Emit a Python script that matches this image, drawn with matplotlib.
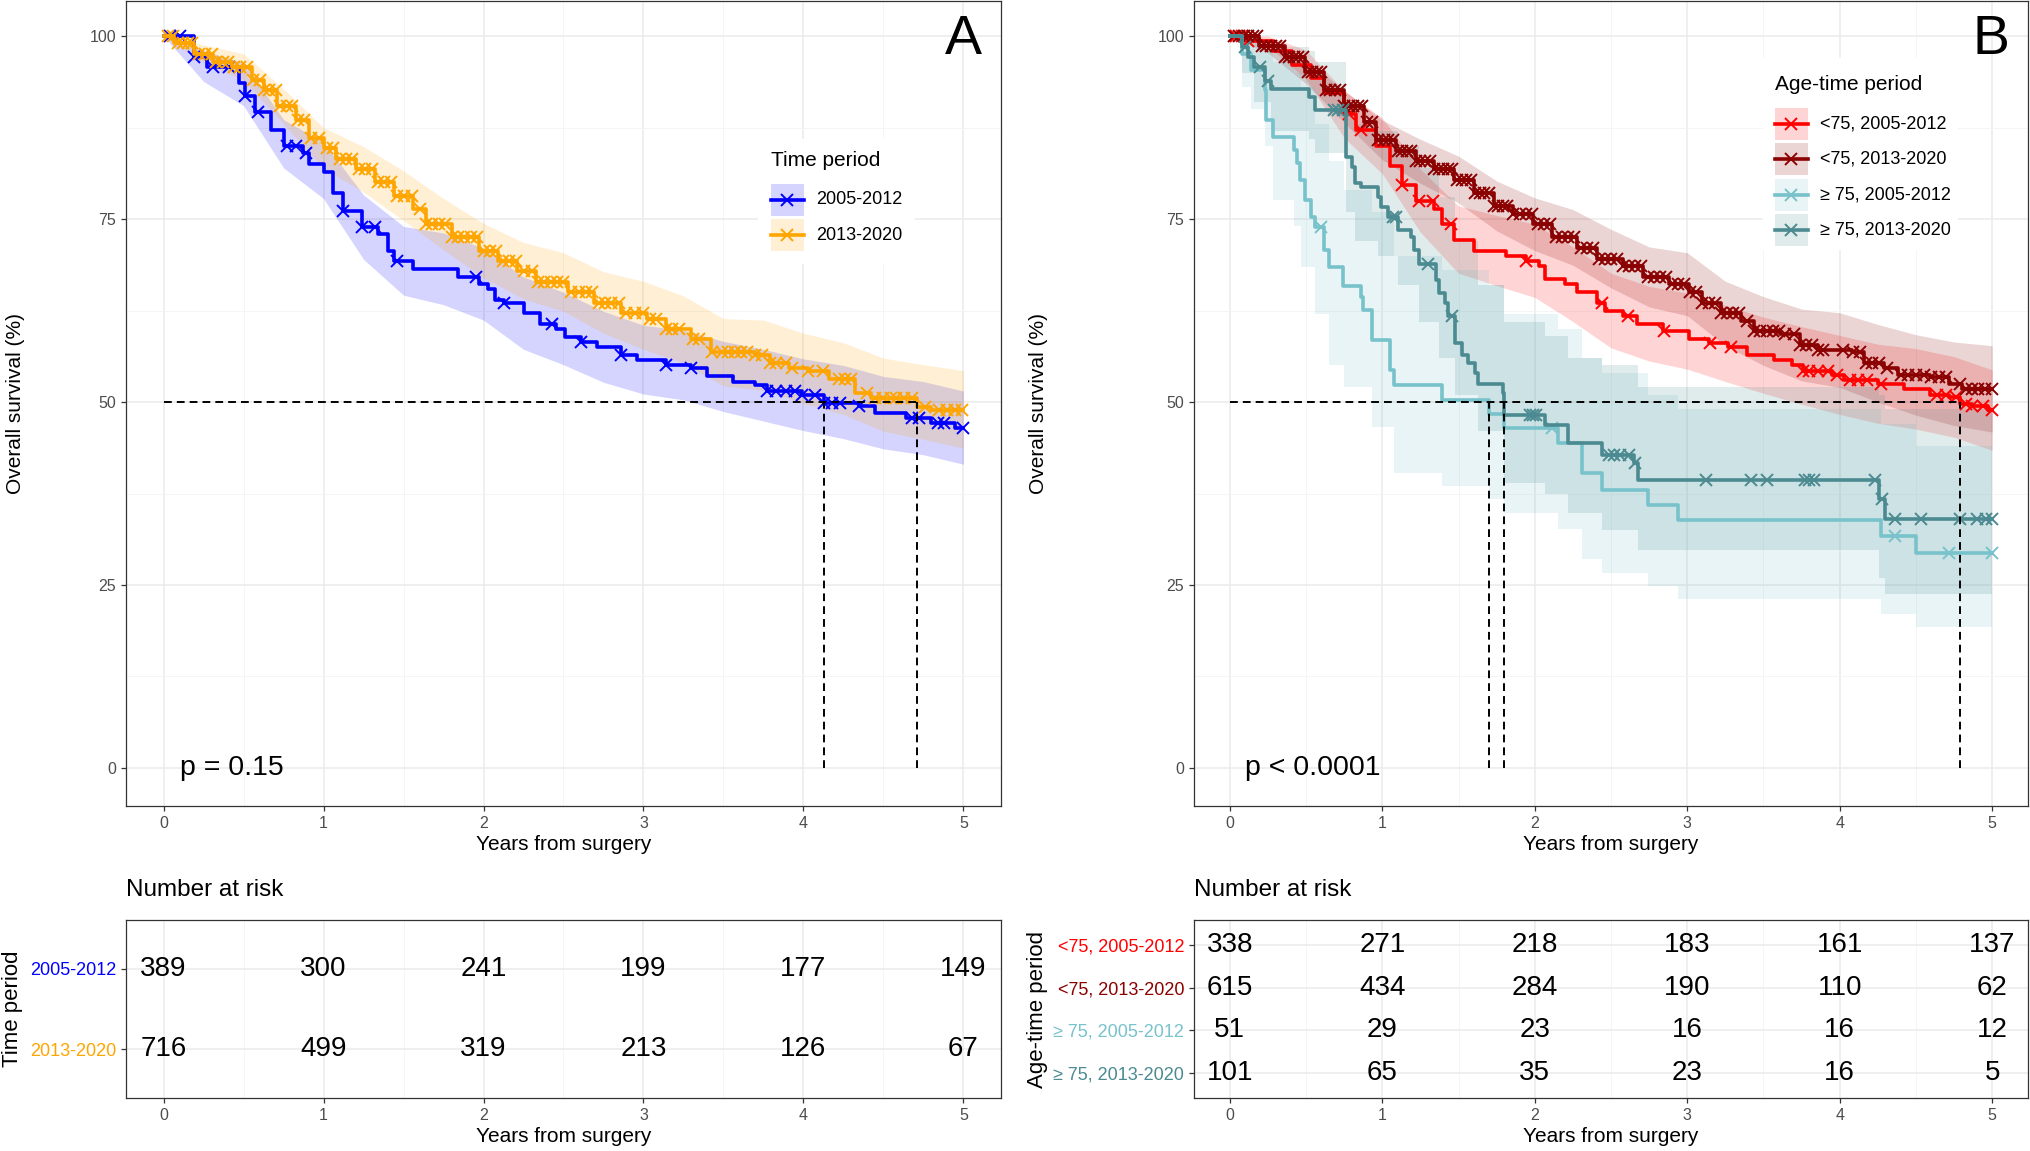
import numpy as np
import matplotlib
matplotlib.use("Agg")
import matplotlib.pyplot as plt
from matplotlib.patches import Rectangle

plt.rcParams['font.family'] = ['Liberation Sans', 'DejaVu Sans']

# ---------------- data ----------------
YEARS = [0, 1, 2, 3, 4, 5]
END = 5.0

# panel A: time period
A_LABELS = ['2005-2012', '2013-2020']
A_COLORS = ['#0000ff', '#ffa500']

BL_T = [0, 0.19, 0.27, 0.47, 0.51, 0.57, 0.67, 0.75, 0.87, 0.91, 1.0, 1.06, 1.12, 1.24, 1.34, 1.40, 1.44,
        1.56, 1.84, 1.97, 2.03, 2.07, 2.13, 2.25, 2.35, 2.45, 2.51, 2.61, 2.71, 2.86, 2.96, 3.14, 3.30,
        3.40, 3.56, 3.70, 3.77, 3.99, 4.13, 4.35, 4.45, 4.64, 4.80, 4.95]
BL_S = [100, 97.2, 95.8, 93.6, 91.8, 89.7, 87.2, 85.0, 84.0, 82.5, 81.5, 78.6, 76.1, 73.9, 72.9, 70.7, 69.3,
        68.2, 67.1, 66.1, 65.4, 63.9, 63.6, 62.1, 60.7, 60.0, 58.9, 58.2, 57.5, 56.4, 55.7, 55.0, 54.6,
        53.5, 52.8, 52.3, 51.5, 51.0, 49.9, 49.4, 48.5, 47.8, 47.1, 46.4]
BL_CENS = [0.04, 0.10, 0.19, 0.31, 0.41, 0.51, 0.59, 0.77, 0.83, 0.89, 1.12, 1.24, 1.32, 1.46, 1.95, 2.13,
           2.43, 2.61, 2.86, 3.14, 3.30, 3.77, 3.83, 3.89, 3.95, 3.99, 4.07, 4.13, 4.18, 4.23, 4.35, 4.68,
           4.72, 4.84, 4.88, 5.0]

OR_T = [0, 0.065, 0.19, 0.31, 0.43, 0.55, 0.63, 0.71, 0.83, 0.91, 1.0, 1.08, 1.2, 1.32, 1.44, 1.56, 1.64,
        1.8, 1.97, 2.09, 2.21, 2.33, 2.53, 2.69, 2.86, 3.02, 3.14, 3.30, 3.42, 3.70, 3.79, 3.91, 4.03,
        4.16, 4.32, 4.42, 4.71, 4.80]
OR_S = [100, 99.0, 97.6, 96.5, 95.8, 94.0, 92.6, 90.4, 88.6, 86.1, 84.7, 83.2, 81.8, 80.0, 78.2, 76.4, 74.3,
        72.5, 70.7, 69.3, 67.9, 66.4, 65.0, 63.6, 62.1, 61.4, 60.0, 58.6, 56.8, 56.4, 55.3, 54.6, 54.3,
        53.2, 51.2, 50.6, 49.3, 48.9]
OR_CENS = [0.03, 0.06, 0.09, 0.12, 0.15, 0.18, 0.22, 0.26, 0.30, 0.33, 0.37, 0.40, 0.44, 0.48, 0.52, 0.56,
           0.60, 0.63, 0.66, 0.70, 0.73, 0.77, 0.80, 0.84, 0.88, 0.92, 0.97, 1.02, 1.06, 1.10, 1.14, 1.18,
           1.22, 1.26, 1.30, 1.34, 1.38, 1.42, 1.46, 1.50, 1.55, 1.60, 1.64, 1.68, 1.72, 1.76, 1.80, 1.84,
           1.88, 1.92, 1.96, 2.00, 2.04, 2.08, 2.12, 2.16, 2.20, 2.25, 2.30, 2.34, 2.38, 2.42, 2.46, 2.50,
           2.55, 2.60, 2.64, 2.68, 2.72, 2.76, 2.80, 2.85, 2.89, 2.95, 3.00, 3.04, 3.08, 3.14, 3.18, 3.22,
           3.31, 3.35, 3.43, 3.49, 3.53, 3.57, 3.61, 3.65, 3.70, 3.74, 3.79, 3.83, 3.89, 3.93, 4.03, 4.12,
           4.22, 4.26, 4.30, 4.40, 4.45, 4.50, 4.55, 4.58, 4.63, 4.68, 4.76, 4.85, 4.90, 4.95, 4.99]

# confidence bands at quarter-year knots
CI_K = [0, 0.25, 0.5, 0.75, 1.0, 1.25, 1.5, 1.75, 2.0, 2.25, 2.5, 2.75, 3.0, 3.25, 3.5, 3.75, 4.0, 4.25,
        4.5, 4.75, 5.0]
BL_LO = [100, 93.8, 90.5, 82.0, 77.8, 69.5, 64.6, 63.3, 61.2, 57.2, 55.1, 52.7, 51.1, 50.3, 48.7, 47.4,
         46.1, 45.0, 43.6, 42.8, 41.5]
BL_HI = [100, 98.0, 96.4, 88.6, 85.5, 78.3, 74.0, 73.1, 71.0, 67.1, 65.0, 62.4, 60.5, 59.8, 58.3, 57.2,
         55.9, 55.0, 53.5, 52.8, 51.5]
OR_LO = [100, 96.4, 94.0, 88.0, 81.9, 78.7, 74.8, 70.8, 67.0, 64.1, 62.4, 59.4, 57.2, 55.3, 52.2, 51.6,
         49.8, 48.3, 46.0, 44.9, 43.7]
OR_HI = [100, 98.8, 97.6, 92.8, 87.5, 84.9, 81.6, 77.8, 74.4, 71.8, 70.4, 67.8, 66.5, 64.5, 61.4, 61.2,
         59.4, 58.1, 56.0, 55.1, 54.3]

A_MEDIANS = [4.13, 4.71]
A_RISK = [[389, 300, 241, 199, 177, 149],
          [716, 499, 319, 213, 126, 67]]

# panel B: age-time period
B_LABELS = ['<75, 2005-2012', '<75, 2013-2020', '\u2265 75, 2005-2012', '\u2265 75, 2013-2020']
B_COLORS = ['#ff0000', '#8b0000', '#78c2cb', '#4b8a90']

RD_T = [0, 0.11, 0.28, 0.41, 0.53, 0.62, 0.75, 0.83, 0.96, 1.05, 1.13, 1.22, 1.34, 1.39, 1.47, 1.60, 1.81,
        1.94, 2.03, 2.07, 2.20, 2.28, 2.41, 2.46, 2.58, 2.67, 2.84, 3.01, 3.14, 3.27, 3.39, 3.57, 3.69,
        3.76, 3.95, 4.03, 4.25, 4.42, 4.59, 4.72, 4.79, 4.87, 4.97]
RD_S = [100, 99.4, 97.9, 96.1, 94.3, 92.2, 89.3, 87.2, 85.0, 82.2, 79.7, 77.5, 76.4, 74.3, 72.2, 70.7, 70.0,
        69.3, 68.6, 66.8, 66.1, 65.0, 63.6, 62.5, 61.8, 60.7, 59.7, 58.6, 58.0, 57.5, 56.4, 55.7, 55.0,
        54.2, 53.7, 53.0, 52.5, 51.8, 50.9, 50.7, 49.8, 49.4, 48.9]
RD_CENS = [0.04, 0.08, 0.12, 0.78, 0.86, 1.13, 1.24, 1.33, 1.45, 1.94, 2.44, 2.61, 2.85, 3.15, 3.29, 3.76,
           3.80, 3.86, 3.92, 3.98, 4.07, 4.12, 4.18, 4.27, 4.64, 4.70, 4.76, 4.83, 4.87, 4.94, 5.0]
RD_LO = [100, 98.7, 94.1, 86.1, 81.2, 73.2, 67.6, 65.9, 64.3, 61.0, 57.4, 55.6, 54.5, 52.8, 51.2, 49.7,
         48.3, 47.1, 46.3, 45.2, 43.4]
RD_HI = [100, 100, 98.1, 92.5, 88.8, 81.8, 76.8, 75.5, 74.3, 71.2, 67.6, 65.8, 64.9, 63.2, 61.6, 60.3,
         59.1, 57.9, 57.3, 56.2, 54.4]

DR_T = [0, 0.19, 0.36, 0.49, 0.62, 0.75, 0.88, 0.96, 1.09, 1.22, 1.34, 1.47, 1.60, 1.73, 1.86, 1.99, 2.11,
        2.28, 2.41, 2.58, 2.71, 2.88, 3.01, 3.10, 3.22, 3.35, 3.44, 3.61, 3.74, 3.86, 4.08, 4.16, 4.29,
        4.38, 4.59, 4.72, 4.80]
DR_S = [100, 98.6, 97.2, 95.1, 92.6, 90.4, 88.3, 85.8, 84.3, 82.9, 81.8, 80.4, 78.6, 76.8, 75.7, 74.3, 72.5,
        71.1, 69.6, 68.6, 67.1, 66.1, 65.0, 63.6, 62.1, 61.1, 59.7, 59.3, 57.8, 57.1, 56.8, 55.3, 54.6,
        53.7, 53.4, 52.5, 51.8]
DR_CENS = [0.03, 0.06, 0.09, 0.12, 0.15, 0.18, 0.21, 0.24, 0.27, 0.30, 0.33, 0.36, 0.39, 0.42, 0.45, 0.48,
           0.51, 0.54, 0.57, 0.60, 0.63, 0.66, 0.69, 0.72, 0.75, 0.78, 0.81, 0.84, 0.87, 0.90, 0.93, 0.97,
           1.01, 1.04, 1.07, 1.10, 1.13, 1.16, 1.19, 1.22, 1.25, 1.28, 1.31, 1.34, 1.37, 1.40, 1.43, 1.46,
           1.49, 1.52, 1.55, 1.58, 1.61, 1.64, 1.67, 1.70, 1.73, 1.76, 1.79, 1.82, 1.86, 1.90, 1.94, 1.98,
           2.02, 2.06, 2.10, 2.14, 2.18, 2.22, 2.26, 2.30, 2.34, 2.38, 2.42, 2.46, 2.50, 2.54, 2.58, 2.62,
           2.66, 2.70, 2.74, 2.78, 2.82, 2.86, 2.90, 2.94, 2.98, 3.02, 3.06, 3.10, 3.14, 3.18, 3.22, 3.26,
           3.30, 3.34, 3.39, 3.44, 3.48, 3.52, 3.56, 3.60, 3.64, 3.70, 3.74, 3.78, 3.82, 3.86, 3.89, 4.02,
           4.09, 4.13, 4.17, 4.21, 4.26, 4.31, 4.40, 4.45, 4.50, 4.55, 4.60, 4.65, 4.70, 4.79, 4.83, 4.87,
           4.91, 4.95, 5.0]
DR_LO = [100, 97.7, 93.5, 88.2, 83.1, 79.9, 77.2, 73.4, 70.7, 68.7, 65.6, 63.0, 61.8, 57.7, 55.0, 52.9,
         52.0, 50.0, 48.2, 46.8, 45.9]
DR_HI = [100, 99.5, 96.7, 92.6, 88.5, 85.9, 83.6, 80.2, 77.9, 76.3, 73.6, 71.2, 70.4, 66.5, 64.4, 62.7,
         62.2, 60.6, 59.2, 58.2, 57.7]

LT_T = [0, 0.08, 0.14, 0.23, 0.24, 0.28, 0.42, 0.44, 0.46, 0.49, 0.53, 0.56, 0.62, 0.65, 0.74, 0.86, 0.875,
        0.93, 1.05, 1.08, 1.39, 1.70, 1.80, 2.15, 2.31, 2.44, 2.74, 2.94, 4.27, 4.50]
LT_S = [100, 97.6, 95.4, 92.6, 88.5, 86.2, 84.4, 82.6, 80.3, 77.6, 75.3, 73.9, 70.8, 68.5, 65.8, 64.4, 62.6,
        58.5, 54.4, 52.3, 50.3, 48.3, 46.4, 44.4, 40.3, 38.0, 35.9, 33.9, 31.7, 29.4]
LT_CENS = [0.60, 2.11, 4.36, 4.72, 5.0]
LT_BT = [0, 0.08, 0.14, 0.23, 0.28, 0.42, 0.47, 0.56, 0.65, 0.75, 0.93, 1.08, 1.39, 1.70, 1.80, 2.15, 2.31,
         2.44, 2.74, 2.94, 4.27, 4.50]
LT_LO = [100, 93, 90, 85, 77.6, 74, 68.5, 62, 55, 52, 46.6, 40.3, 38.5, 36.7, 34.9, 32.6, 28.5, 26.7, 24.9,
         23.1, 21.0, 19.2]
LT_HI = [100, 100, 99.5, 98, 96.5, 95, 93, 88, 83, 79, 76, 70, 68, 66, 62, 60, 56, 54, 51, 49, 47, 44]

DT_T = [0, 0.08, 0.12, 0.16, 0.23, 0.27, 0.52, 0.56, 0.76, 0.80, 0.82, 0.86, 0.97, 0.99, 1.04, 1.10, 1.19,
        1.21, 1.24, 1.35, 1.37, 1.41, 1.43, 1.48, 1.52, 1.56, 1.61, 1.63, 1.79, 1.80, 2.07, 2.22, 2.44, 2.65,
        2.68, 4.26, 4.30]
DT_S = [100, 98.5, 97.1, 95.8, 93.9, 92.8, 91.7, 89.9, 83.5, 82.1, 79.9, 79.4, 78.0, 76.7, 75.3, 73.5, 72.6,
        70.8, 68.9, 66.7, 64.9, 63.6, 61.7, 58.0, 56.4, 55.3, 53.9, 52.5, 51.2, 48.2, 46.9, 44.4, 42.8, 41.7,
        39.4, 36.7, 34.0]
DT_CENS = [0.10, 0.20, 0.25, 0.68, 0.71, 0.74, 1.07, 1.09, 1.30, 1.455, 1.97, 1.99, 2.01, 2.49, 2.52, 2.56,
           2.62, 2.66, 3.12, 3.42, 3.52, 3.77, 3.80, 3.83, 4.23, 4.28, 4.36, 4.53, 4.79, 4.90, 4.96, 5.0]
DT_BT = [0, 0.08, 0.16, 0.27, 0.52, 0.56, 0.76, 0.82, 0.97, 1.10, 1.24, 1.37, 1.48, 1.63, 1.80, 2.07, 2.22,
         2.44, 2.68, 4.26, 4.30]
DT_LO = [100, 95, 91, 87, 86, 84, 76, 72, 70, 66, 61, 56, 51, 46, 39, 37.5, 34.8, 32.5, 29.8, 26, 23.8]
DT_HI = [100, 100, 99.5, 98.5, 98, 96.5, 91, 88, 87, 85, 82, 78, 72, 66, 61, 59, 56, 55, 52, 51, 49]

B_MEDIANS = [1.70, 1.80, 4.79]
B_RISK = [[338, 271, 218, 183, 161, 137],
          [615, 434, 284, 190, 110, 62],
          [51, 29, 23, 16, 16, 12],
          [101, 65, 35, 23, 16, 5]]

# ---------------- drawing helpers ----------------
W, H = 2031, 1151
GRID_MAJ = '#ebebeb'
GRID_MIN = '#f4f4f4'
FRAME = '#333333'
TICKC = '#4d4d4d'
BAND_ALPHA = 0.17
LW = 2.6
MS = 9


def style_axes(ax):
    for sp in ax.spines.values():
        sp.set_color(FRAME)
        sp.set_linewidth(0.9)
    ax.tick_params(direction='out', length=3.5, width=0.9, color=FRAME, labelcolor=TICKC, labelsize=11.5)
    ax.grid(True, which='major', color=GRID_MAJ, lw=1.1, zorder=0)
    ax.grid(True, which='minor', color=GRID_MIN, lw=0.6, zorder=0)
    ax.set_axisbelow(True)


def km_curve(ax, t, s, cens, color):
    t = np.asarray(t)
    s = np.asarray(s)
    ax.step(np.append(t, END), np.append(s, s[-1]), where='post', color=color, lw=LW, zorder=3)
    idx = np.searchsorted(t, cens, side='right') - 1
    ax.plot(cens, s[idx], ls='none', marker='x', ms=MS, mew=1.4, color=color, zorder=3)


def smooth_band(ax, lo, hi, color):
    ax.fill_between(CI_K, lo, hi, color=color, alpha=BAND_ALPHA, lw=0, zorder=1)


def step_band(ax, t, lo, hi, color, alpha=BAND_ALPHA):
    ax.fill_between(np.append(t, END), np.append(lo, lo[-1]), np.append(hi, hi[-1]), step='post',
                    color=color, alpha=alpha, lw=0, zorder=1)


def medians(ax, meds):
    dash = (0, (4, 2.6))
    ax.plot([0, max(meds)], [50, 50], color='black', lw=1.4, ls=dash, zorder=4)
    for m in meds:
        ax.plot([m, m], [0, 50], color='black', lw=1.4, ls=dash, zorder=4)


def survival_axes(ax, letter, pval, label_x):
    style_axes(ax)
    ax.set_xlim(-0.235, 5.235)
    ax.set_ylim(-5.2, 104.8)
    ax.set_xticks(YEARS)
    ax.set_xticks(np.arange(0.5, 5, 1), minor=True)
    ax.set_yticks([0, 25, 50, 75, 100])
    ax.set_yticks([12.5, 37.5, 62.5, 87.5], minor=True)
    ax.tick_params(which='minor', length=0)
    ax.set_xlabel('Years from surgery', fontsize=15, labelpad=3)
    ax.set_ylabel('Overall survival (%)', fontsize=15)
    ax.yaxis.set_label_coords(label_x, 0.5)
    ax.text(0.1, 0, pval, fontsize=20.5, ha='left', va='center', zorder=5)
    ax.text(0.978, 0.952, letter, transform=ax.transAxes, fontsize=40, ha='right', va='center')


def key_legend(box_px, title, title_y, rows_y, key_x, colors, labels):
    # box_px: left, top, right, bottom in figure pixels (from top-left)
    l, t, r, b = box_px
    lg = fig.add_axes([l / W, 1 - b / H, (r - l) / W, (b - t) / H])
    lg.set_xlim(l, r)
    lg.set_ylim(b, t)
    lg.axis('off')
    lg.add_patch(Rectangle((l, t), r - l, b - t, facecolor='white', edgecolor='none', zorder=0))
    lg.text(key_x, title_y, title, fontsize=15, ha='left', va='center')
    for y, c, lab in zip(rows_y, colors, labels):
        lg.add_patch(Rectangle((key_x, y - 16), 33, 32, facecolor=c, alpha=BAND_ALPHA, edgecolor='none'))
        lg.plot([key_x, key_x + 33], [y, y], color=c, lw=LW)
        lg.plot([key_x + 16.5], [y], marker='x', ms=MS, mew=1.4, color=c)
        lg.text(key_x + 45, y, lab, fontsize=13, ha='left', va='center')
    return lg


def risk_table(ax, risk, labels, colors, ylabel, label_x):
    style_axes(ax)
    n = len(risk)
    ax.set_xlim(-0.235, 5.235)
    ax.set_ylim(0.4, n + 0.6)
    ax.set_xticks(YEARS)
    ax.set_xticks(np.arange(0.5, 5, 1), minor=True)
    ax.tick_params(which='minor', length=0)
    ax.set_yticks(range(n, 0, -1))
    ax.set_yticklabels(labels, fontsize=13)
    for lab, c in zip(ax.get_yticklabels(), colors):
        lab.set_color(c)
    ax.grid(False, axis='y', which='minor')
    for row, vals in enumerate(risk):
        for x, v in zip(YEARS, vals):
            ax.text(x, n - row, str(v), ha='center', va='center', fontsize=20, zorder=3)
    ax.set_xlabel('Years from surgery', fontsize=15, labelpad=3)
    ax.set_ylabel(ylabel, fontsize=16)
    ax.yaxis.set_label_coords(label_x, 0.5)


fig = plt.figure(figsize=(W / 100, H / 100), dpi=100)

axA = fig.add_axes([126 / W, 345 / H, 875 / W, 805 / H])
axB = fig.add_axes([1194 / W, 345 / H, 834 / W, 805 / H])
tabA = fig.add_axes([126 / W, 53 / H, 875 / W, 178 / H])
tabB = fig.add_axes([1194 / W, 53 / H, 834 / W, 178 / H])

# ---- panel A ----
survival_axes(axA, 'A', 'p = 0.15', (25 - 126) / 875)
smooth_band(axA, BL_LO, BL_HI, A_COLORS[0])
smooth_band(axA, OR_LO, OR_HI, A_COLORS[1])
km_curve(axA, BL_T, BL_S, BL_CENS, A_COLORS[0])
km_curve(axA, OR_T, OR_S, OR_CENS, A_COLORS[1])
medians(axA, A_MEDIANS)
key_legend((758, 139, 915, 264), 'Time period', 161, [200, 235], 771, A_COLORS, A_LABELS)

# ---- panel B ----
survival_axes(axB, 'B', 'p < 0.0001', (1048 - 1194) / 834)
smooth_band(axB, RD_LO, RD_HI, B_COLORS[0])
smooth_band(axB, DR_LO, DR_HI, B_COLORS[1])
step_band(axB, LT_BT, LT_LO, LT_HI, B_COLORS[2])
step_band(axB, DT_BT, DT_LO, DT_HI, B_COLORS[3])
km_curve(axB, RD_T, RD_S, RD_CENS, B_COLORS[0])
km_curve(axB, DR_T, DR_S, DR_CENS, B_COLORS[1])
km_curve(axB, LT_T, LT_S, LT_CENS, B_COLORS[2])
km_curve(axB, DT_T, DT_S, DT_CENS, B_COLORS[3])
medians(axB, B_MEDIANS)
key_legend((1763, 58, 1958, 250), 'Age-time period', 85, [124, 159, 195, 230], 1775, B_COLORS, B_LABELS)

# ---- risk tables ----
risk_table(tabA, A_RISK, A_LABELS, A_COLORS, 'Time period', (23 - 126) / 875)
risk_table(tabB, B_RISK, B_LABELS, B_COLORS, 'Age-time period', (1048 - 1194) / 834)
fig.text(126 / W, 1 - 890 / H, 'Number at risk', fontsize=17.5, ha='left', va='center')
fig.text(1194 / W, 1 - 890 / H, 'Number at risk', fontsize=17.5, ha='left', va='center')

fig.savefig('out.png', dpi=100)
